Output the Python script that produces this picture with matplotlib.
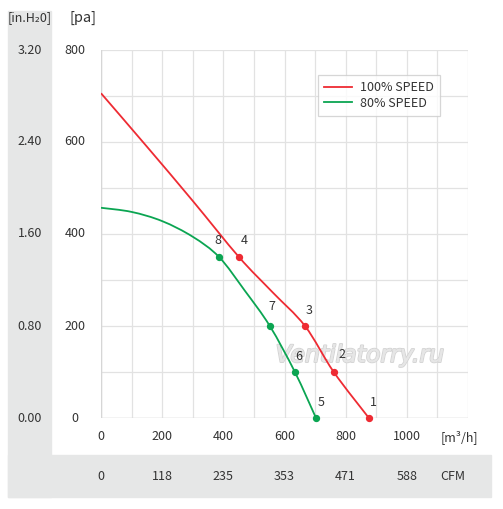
import matplotlib
matplotlib.use("Agg")
import matplotlib.pyplot as plt
import matplotlib.patheffects as pe
from matplotlib.patches import Rectangle, PathPatch
from matplotlib.path import Path

FONT = ['Noto Sans CJK SC', 'DejaVu Sans']
plt.rcParams['font.family'] = FONT

# Data
red_q = [0, 150, 300, 451, 560, 667, 761, 876]
red_p = [706, 590, 472, 350, 274, 200, 100, 0]
green_q = [0, 100, 200, 300, 386, 470, 552, 634, 703]
green_p = [457, 448, 428, 394, 350, 277, 200, 100, 0]

red_pts_q = [876, 761, 667, 451]
red_pts_p = [0, 100, 200, 350]
red_pts_lbl = ['1', '2', '3', '4']
green_pts_q = [703, 634, 552, 386]
green_pts_p = [0, 100, 200, 350]
green_pts_lbl = ['5', '6', '7', '8']

pa_ticks = [0, 200, 400, 600, 800]
inh2o_labels = ['0.00', '0.80', '1.60', '2.40', '3.20']
m3h_ticks = [0, 200, 400, 600, 800, 1000]
cfm_labels = ['0', '118', '235', '353', '471', '588']

RED = '#ee2b33'
GREEN = '#0ba552'
GRAY = '#e6e7e7'
TXT = '#333333'

W, H = 503, 509
fig = plt.figure(figsize=(W / 100, H / 100), dpi=100)


def fx(x):
    return x / W


def fy(y):
    return 1 - y / H


fig.patches.append(Rectangle((fx(8), fy(497)), fx(51) - fx(8), fy(11) - fy(497),
                             transform=fig.transFigure, color=GRAY, zorder=0))
fig.patches.append(Rectangle((fx(8), fy(497)), fx(491) - fx(8), fy(455) - fy(497),
                             transform=fig.transFigure, color=GRAY, zorder=0))

ax = fig.add_axes([fx(101), fy(418), fx(468) - fx(101), fy(50) - fy(418)])
ax.set_xlim(0, 1200)
ax.set_ylim(0, 800)
ax.set_xticks(range(0, 1201, 100))
ax.set_yticks(range(0, 801, 100))
ax.grid(True, color='#e2e2e2', linewidth=0.9)
ax.tick_params(length=0, labelleft=False, labelbottom=False)
for s in ax.spines.values():
    s.set_visible(False)
ax.axvline(0, color='#d6d6d6', lw=1.0)
ax.axhline(0, color='#d6d6d6', lw=1.0)
ax.patch.set_alpha(0)


def smooth_path(xs, ys, t=1 / 6):
    pts = list(zip(xs, ys))
    verts = [pts[0]]
    codes = [Path.MOVETO]
    n = len(pts)
    for i in range(n - 1):
        p0 = pts[i - 1] if i > 0 else pts[i]
        p1 = pts[i]
        p2 = pts[i + 1]
        p3 = pts[i + 2] if i + 2 < n else pts[i + 1]
        c1 = (p1[0] + (p2[0] - p0[0]) * t, p1[1] + (p2[1] - p0[1]) * t)
        c2 = (p2[0] - (p3[0] - p1[0]) * t, p2[1] - (p3[1] - p1[1]) * t)
        verts += [c1, c2, p2]
        codes += [Path.CURVE4] * 3
    return Path(verts, codes)


ax.add_patch(PathPatch(smooth_path(red_q, red_p), fill=False, edgecolor=RED, lw=1.3, zorder=3))
ax.add_patch(PathPatch(smooth_path(green_q, green_p), fill=False, edgecolor=GREEN, lw=1.3, zorder=3))
ax.plot([], [], color=RED, lw=1.3, label='100% SPEED')
ax.plot([], [], color=GREEN, lw=1.3, label='80% SPEED')
ax.scatter(red_pts_q, red_pts_p, color=RED, s=18, zorder=4, clip_on=False)
ax.scatter(green_pts_q, green_pts_p, color=GREEN, s=18, zorder=4, clip_on=False)

red_off = [(5, 15), (8, 17), (4, 16), (5, 17)]
green_off = [(5, 15), (4, 16), (2, 19), (-1, 16)]
for q, p, l, o in zip(red_pts_q, red_pts_p, red_pts_lbl, red_off):
    ax.annotate(l, (q, p), xytext=o, textcoords='offset pixels', fontsize=9,
                color=TXT, ha='center', va='center', zorder=5)
for q, p, l, o in zip(green_pts_q, green_pts_p, green_pts_lbl, green_off):
    ax.annotate(l, (q, p), xytext=o, textcoords='offset pixels', fontsize=9,
                color=TXT, ha='center', va='center', zorder=5)

leg = ax.legend(loc='upper left', bbox_to_anchor=((318 - 101) / 367, 1 - (75 - 50) / 368),
                borderaxespad=0, frameon=True, fancybox=False, fontsize=9,
                handlelength=2.2, borderpad=0.5, labelspacing=0.2, handletextpad=0.65)
leg.get_frame().set_edgecolor('#cccccc')
leg.get_frame().set_linewidth(0.9)
for t in leg.get_texts():
    t.set_color(TXT)

# watermark
ax.text(847, 137, 'Ventilatorry.ru', fontsize=17, family=['DejaVu Sans'],
        style='italic', color='#e6e6e6', ha='center', va='center', zorder=2,
        path_effects=[pe.withStroke(linewidth=1.4, foreground='#d4d4d4'),
                      pe.Normal()])

# y labels (two columns)
for v, lab in zip(pa_ticks, inh2o_labels):
    ypx = 418 - v * 368 / 800
    fig.text(fx(75), fy(ypx), str(v), fontsize=9, color=TXT, ha='center', va='center')
    fig.text(fx(30), fy(ypx), lab, fontsize=9, color=TXT, ha='center', va='center')
fig.text(fx(30), fy(18), '[in.H\u20820]', fontsize=9, color=TXT, ha='center', va='center')
fig.text(fx(83), fy(18), '[pa]', fontsize=10.5, color=TXT, ha='center', va='center')

# x labels
for v, c in zip(m3h_ticks, cfm_labels):
    xpx = 101 + v * 367 / 1200
    fig.text(fx(xpx), fy(437), str(v), fontsize=9, color=TXT, ha='center', va='center')
    fig.text(fx(xpx), fy(476), c, fontsize=9, color=TXT, ha='center', va='center')
fig.text(fx(459), fy(437), '[m\u00b3/h]', fontsize=9, color=TXT, ha='center', va='center')
fig.text(fx(453), fy(476), 'CFM', fontsize=9, color=TXT, ha='center', va='center')

fig.savefig('out.png', dpi=100, facecolor='white')
